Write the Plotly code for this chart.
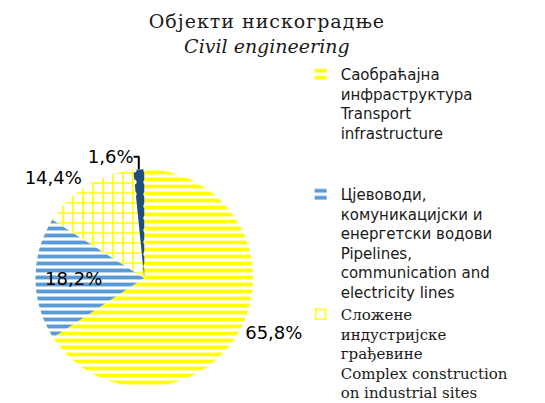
import plotly.graph_objects as go

title_sr = "Објекти нискоградње"
title_en = "Civil engineering"

labels = [
    "Саобраћајна<br>инфраструктура<br>Transport<br>infrastructure<br> <br> ",
    "Цјевоводи,<br>комуникацијски и<br>енергетски водови<br>Pipelines,<br>communication and<br>electricity lines",
    "<span style='font-family:DejaVu Serif'>Сложене<br>индустријске<br>грађевине<br>Complex construction<br>on industrial sites</span>",
    "Остало<br>Other",
]
values = [65.8, 18.2, 14.4, 1.6]

text = [f"{v:.1f}".replace(".", ",") + "%" for v in values]

fig = go.Figure(go.Pie(
    labels=labels,
    values=values,
    text=text,
    textinfo="text",
    textposition=["outside", "inside", "outside", "outside"],
    textfont=dict(family="DejaVu Sans", size=18, color="black"),
    sort=False,
    direction="clockwise",
    rotation=0,
    hole=0,
    domain=dict(x=[0.04, 0.46], y=[0.06, 0.60]),
    marker=dict(
        colors=["#FFFFFF", "#FFFFFF", "#FFFFFF", "#1F4E79"],
        line=dict(width=0),
        pattern=dict(
            shape=["-", "-", "+", "."],
            fgcolor=["#FFFF00", "#5B9BD5", "#FFFF00", "#FFFFFF"],
            bgcolor=["#FFFFFF", "#FFFFFF", "#FFFFFF", "#1F4E79"],
            fgopacity=1,
            size=[7, 7, 10, 12],
            solidity=[0.55, 0.55, 0.3, 0.15],
            fillmode="overlay",
        ),
    ),
    showlegend=True,
))

fig.update_layout(
    width=545, height=403,
    margin=dict(l=0, r=0, t=0, b=0, autoexpand=False),
    paper_bgcolor="white",
    plot_bgcolor="white",
    title=dict(
        text=f"<span style='letter-spacing:1px'>{title_sr}</span><br><i>{title_en}</i>",
        x=0.475, xanchor="center", y=0.95, yanchor="top",
        font=dict(family="DejaVu Serif", size=19, color="#1a1a1a"),
    ),
    legend=dict(
        x=0.537, xanchor="left", y=0.876, yanchor="top",
        font=dict(family="DejaVu Sans", size=15, color="#1a1a1a"),
        valign="top",
        bgcolor="rgba(0,0,0,0)",
    ),
)

try:
    fig.update_layout(legend_maxheight=2000)
except Exception:
    pass

fig.write_html("out.html")
